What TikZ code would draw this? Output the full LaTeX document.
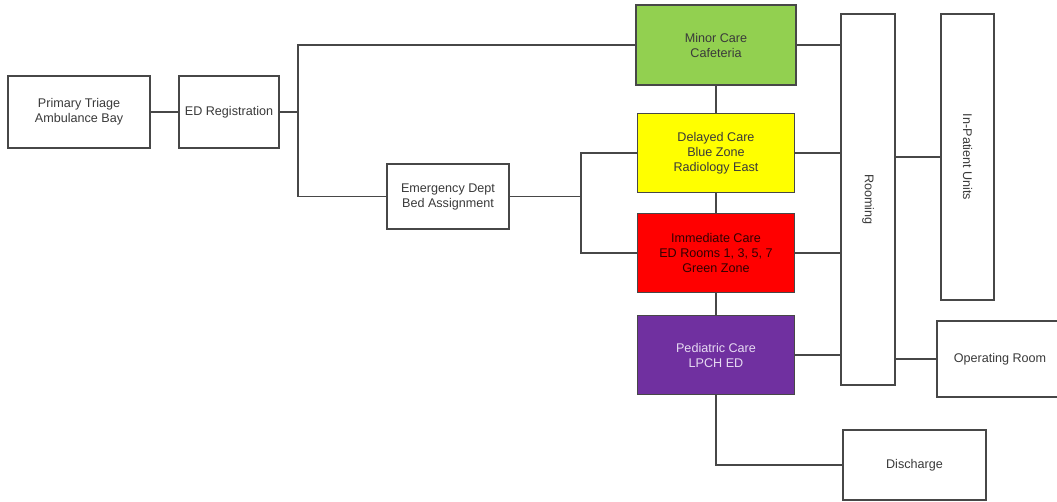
\documentclass[tikz,border=0pt]{standalone}
\usepackage{fontspec}
\setmainfont{Liberation Sans}
\definecolor{ln}{HTML}{474747}
\definecolor{tx}{HTML}{3A3A3A}
\definecolor{cgreen}{HTML}{92D050}
\definecolor{cyellow}{HTML}{FFFF00}
\definecolor{cred}{HTML}{FF0000}
\definecolor{cpurple}{HTML}{7030A0}
\definecolor{lav}{HTML}{E6DAF2}
\tikzset{
  box/.style={draw=ln, line width=1.3pt, fill=white, text=tx, align=center,
    inner sep=0pt, font=\fontsize{12.6}{15}\selectfont},
  conn/.style={draw=ln, line width=1.3pt},
}
\begin{document}
\begin{tikzpicture}[x=1pt,y=-1pt]
\useasboundingbox (0,0) rectangle (1057,501);
\node[box, minimum width=142pt, minimum height=72pt] (pt) at (79,112) {Primary Triage\\Ambulance Bay};
\node[box, minimum width=100pt, minimum height=72pt] (reg) at (229,112) {ED Registration};
\node[box, minimum width=160pt, minimum height=80pt, fill=cgreen] (minor) at (716,45) {Minor Care\\Cafeteria};
\node[box, minimum width=157pt, minimum height=79pt, fill=cyellow] (del) at (716,153) {Delayed Care\\Blue Zone\\Radiology East};
\node[box, minimum width=157pt, minimum height=79pt, fill=cred, text=black!80!red] (imm) at (716,253) {Immediate Care\\ED Rooms 1, 3, 5, 7\\Green Zone};
\node[box, minimum width=157pt, minimum height=79pt, fill=cpurple, text=lav] (ped) at (716,355) {Pediatric Care\\LPCH ED};
\node[box, minimum width=122pt, minimum height=65pt] (bed) at (448,196.5) {Emergency Dept\\Bed Assignment};
\node[box, minimum width=54pt, minimum height=371pt] (room) at (868,199.5) {\rotatebox{-90}{Rooming}};
\node[box, minimum width=53pt, minimum height=286pt] (inp) at (967.5,157) {\rotatebox{-90}{In-Patient Units}};
\node[box, minimum width=126pt, minimum height=76pt] (or) at (1000,359) {Operating Room};
\node[box, minimum width=143pt, minimum height=70pt] (dis) at (914.5,465) {Discharge};
\coordinate (j1) at (298,112);
\coordinate (j2) at (581,196.5);
\draw[conn] (pt.east) -- (reg.west);
\draw[conn] (reg.east) -- (j1);
\draw[conn] (minor.west) -| (j1) |- (bed.west);
\draw[conn] (bed.east) -- (j2);
\draw[conn] (del.west) -| (j2) |- (imm.west);
\draw[conn] (minor.south) -- (del.north);
\draw[conn] (del.south) -- (imm.north);
\draw[conn] (imm.south) -- (ped.north);
\draw[conn] (ped.south) |- (dis.west);
\draw[conn] (minor.east) -- (minor.east -| room.west);
\draw[conn] (del.east) -- (del.east -| room.west);
\draw[conn] (imm.east) -- (imm.east -| room.west);
\draw[conn] (ped.east) -- (ped.east -| room.west);
\draw[conn] (inp.west -| room.east) -- (inp.west);
\draw[conn] (or.west -| room.east) -- (or.west);
\end{tikzpicture}
\end{document}
